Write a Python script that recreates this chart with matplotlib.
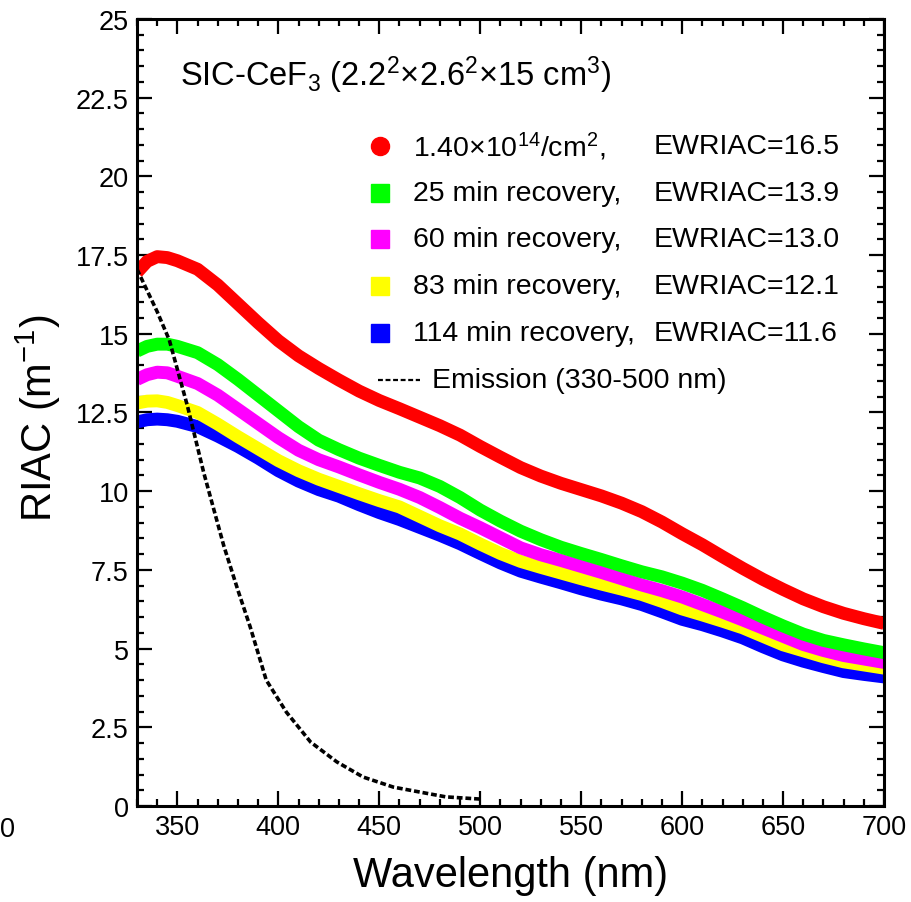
import matplotlib
matplotlib.use('Agg')
import matplotlib.pyplot as plt
from matplotlib.ticker import MultipleLocator, FormatStrFormatter

plt.rcParams['font.family'] = ['Liberation Sans', 'DejaVu Sans']
plt.rcParams['mathtext.fontset'] = 'custom'
plt.rcParams['mathtext.rm'] = 'Liberation Sans'
plt.rcParams['mathtext.it'] = 'Liberation Sans'
plt.rcParams['mathtext.default'] = 'regular'

# wavelength grid (nm) shared by the absorption spectra
wl = [330, 335, 340, 345, 350, 360, 370, 380, 390, 400, 410, 420, 430, 440,
      450, 460, 470, 480, 490, 500, 510, 520, 530, 540, 550, 560, 570, 580,
      590, 600, 610, 620, 630, 640, 650, 660, 670, 680, 690, 700]

riac_irr = [16.95, 17.3, 17.45, 17.42, 17.32, 17.05, 16.55, 15.95, 15.35,
            14.78, 14.3, 13.9, 13.53, 13.18, 12.88, 12.62, 12.35, 12.08,
            11.78, 11.42, 11.08, 10.75, 10.48, 10.25, 10.05, 9.85, 9.62,
            9.35, 9.02, 8.65, 8.3, 7.92, 7.55, 7.2, 6.88, 6.58, 6.33, 6.12,
            5.95, 5.8]
riac_25 = [14.45, 14.6, 14.67, 14.67, 14.6, 14.4, 14.02, 13.55, 13.05, 12.55,
           12.05, 11.62, 11.32, 11.05, 10.82, 10.6, 10.42, 10.15, 9.8, 9.4,
           9.05, 8.73, 8.46, 8.22, 8.02, 7.83, 7.63, 7.44, 7.28, 7.08, 6.85,
           6.58, 6.3, 6.0, 5.72, 5.46, 5.26, 5.12, 4.99, 4.87]
riac_60 = [13.55, 13.7, 13.78, 13.76, 13.65, 13.42, 13.05, 12.6, 12.15, 11.7,
           11.3, 11.0, 10.77, 10.52, 10.28, 10.06, 9.8, 9.48, 9.14, 8.84,
           8.52, 8.2, 7.98, 7.8, 7.61, 7.42, 7.22, 7.02, 6.84, 6.64, 6.4,
           6.16, 5.91, 5.65, 5.39, 5.13, 4.94, 4.78, 4.67, 4.56]
riac_83 = [12.8, 12.86, 12.87, 12.82, 12.72, 12.5, 12.13, 11.73, 11.35, 10.97,
           10.65, 10.38, 10.15, 9.92, 9.7, 9.5, 9.2, 8.9, 8.64, 8.32, 8.02,
           7.77, 7.58, 7.4, 7.22, 7.05, 6.89, 6.72, 6.5, 6.26, 6.07, 5.87,
           5.66, 5.39, 5.12, 4.93, 4.74, 4.58, 4.48, 4.38]
riac_114 = [12.2, 12.27, 12.29, 12.27, 12.22, 12.05, 11.75, 11.42, 11.05,
            10.65, 10.32, 10.05, 9.84, 9.57, 9.32, 9.1, 8.85, 8.6, 8.33,
            8.02, 7.72, 7.46, 7.27, 7.09, 6.9, 6.73, 6.58, 6.4, 6.17, 5.93,
            5.76, 5.56, 5.34, 5.06, 4.8, 4.6, 4.43, 4.27, 4.18, 4.1]

# emission spectrum (arbitrary scale)
em_wl = [330, 340, 346, 355, 363, 373, 380, 386, 394, 404, 416, 429, 442,
         457, 467, 483, 500]
em_val = [17.05, 15.7, 14.8, 12.7, 10.6, 8.26, 6.85, 5.7, 4.0, 2.98, 2.03,
          1.4, 0.92, 0.6, 0.48, 0.29, 0.22]

labels = ['1.40×10$^{14}$/cm$^{2}$,', '25 min recovery,', '60 min recovery,',
          '83 min recovery,', '114 min recovery,']
ewriac = [16.5, 13.9, 13.0, 12.1, 11.6]
colors = ['#ff0000', '#00ff00', '#ff00ff', '#ffff00', '#0000ff']
markers = ['o', 's', 's', 's', 's']
series = [riac_irr, riac_25, riac_60, riac_83, riac_114]

fig = plt.figure(figsize=(9.11, 9.03), dpi=100)
ax = fig.add_axes([0.1504, 0.1063, 0.82, 0.8716])

for ys, c in reversed(list(zip(series, colors))):
    ax.plot(wl, ys, color=c, lw=9.3, solid_joinstyle='round',
            solid_capstyle='butt')
ax.plot(em_wl, em_val, color='black', lw=2.6, ls=(0, (1.6, 0.8)))

ax.set_xlim(330, 700)
ax.set_ylim(0, 25)
ax.xaxis.set_major_locator(MultipleLocator(50))
ax.xaxis.set_minor_locator(MultipleLocator(10))
ax.yaxis.set_major_locator(MultipleLocator(2.5))
ax.yaxis.set_minor_locator(MultipleLocator(0.5))
ax.yaxis.set_major_formatter(FormatStrFormatter('%g'))
ax.set_xticks([350, 400, 450, 500, 550, 600, 650, 700])
ax.tick_params(which='both', direction='in', top=True, right=True,
               labelsize=19.5, width=1.6)
ax.tick_params(which='major', length=10.5, pad=6)
ax.tick_params(which='minor', length=5)
for sp in ax.spines.values():
    sp.set_linewidth(2.2)

# hand-placed legend: markers, labels and EWRIAC column
rows_y = [0.8386, 0.779, 0.7205, 0.661, 0.601]
for y, lab, ew, c, m in zip(rows_y, labels, ewriac, colors, markers):
    ax.plot([0.325], [y], marker=m, ms=13 if m == 'o' else 12.5, color=c,
            mec=c, transform=ax.transAxes, clip_on=False)
    ax.text(0.3695, y, lab, transform=ax.transAxes, fontsize=20.5,
            va='center', ha='left')
    ax.text(0.691, y, f'EWRIAC={ew:.1f}', transform=ax.transAxes,
            fontsize=20.5, va='center', ha='left')
ax.plot([0.3226, 0.379], [0.541, 0.541], color='black', lw=1.6,
        ls=(0, (2.2, 1.2)), transform=ax.transAxes)
ax.text(0.395, 0.541, 'Emission (330-500 nm)', transform=ax.transAxes,
        fontsize=20.5, va='center', ha='left')

ax.text(0.0576, 0.930, 'SIC-CeF$_{3}$ (2.2$^{2}$×2.6$^{2}$×15 cm$^{3}$)',
        transform=ax.transAxes, fontsize=23.5, va='center', ha='left')

fig.text(511 / 911, 1 - 876 / 903, 'Wavelength (nm)', fontsize=30,
         ha='center', va='center')
fig.text(38 / 911, 1 - 418 / 903, 'RIAC (m$^{-1}$)', fontsize=30,
         rotation=90, ha='center', va='center')
fig.text(0.0, 1 - 830 / 903, '0', fontsize=19.5, ha='left', va='center')

fig.savefig('out.png', dpi=100)
